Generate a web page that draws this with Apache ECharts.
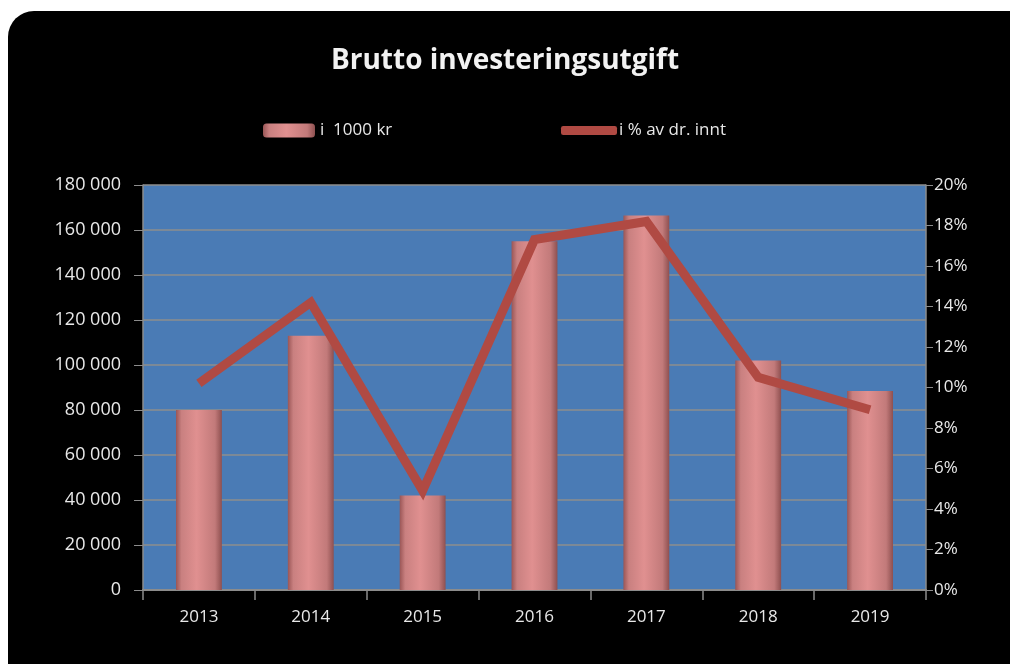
<!DOCTYPE html>
<html>
<head>
<meta charset="utf-8">
<script src="https://cdn.jsdelivr.net/npm/echarts@6/dist/echarts.min.js"></script>
<style>
  html, body { margin: 0; padding: 0; background: #fff; }
  #chart { width: 1010px; height: 664px; }
</style>
</head>
<body>
<div id="chart"></div>
<script>
// data
var years = ['2013', '2014', '2015', '2016', '2017', '2018', '2019'];
var amount = [80000, 113000, 42000, 155000, 166500, 102000, 88500]; // i 1000 kr
var share = [10.2, 14.2, 4.9, 17.3, 18.2, 10.5, 8.9]; // i % av dr. innt

var chart = echarts.init(document.getElementById('chart'));
var font = '"Open Sans", Lato, sans-serif';

var barColor = new echarts.graphic.LinearGradient(0, 0, 1, 0, [
  { offset: 0, color: '#9a5656' },
  { offset: 0.12, color: '#c98080' },
  { offset: 0.45, color: '#e09090' },
  { offset: 0.85, color: '#c27a7a' },
  { offset: 1, color: '#8e5050' }
]);

var option = {
  backgroundColor: 'transparent',
  textStyle: { fontFamily: font },
  graphic: [{
    type: 'rect',
    z: -10,
    shape: { x: 8, y: 11, width: 1030, height: 680, r: 26 },
    style: { fill: '#000' }
  }],
  title: {
    text: 'Brutto investeringsutgift',
    left: 'center',
    top: 42,
    textStyle: { color: '#f2f2f2', fontSize: 28, fontWeight: 'bold', fontFamily: font }
  },
  legend: [{
    data: ['i  1000 kr'],
    left: 258,
    top: 117,
    itemWidth: 52,
    itemHeight: 14,
    itemGap: 8,
    textStyle: { color: '#e8e8e8', fontSize: 17 }
  }, {
    data: [{ name: 'i % av dr. innt', icon: 'roundRect' }],
    left: 556,
    top: 117,
    itemWidth: 56,
    itemHeight: 9,
    textStyle: { color: '#e8e8e8', fontSize: 17, padding: [0, 0, 0, -3] }
  }],
  grid: {
    left: 143,
    right: 84,
    top: 185,
    bottom: 74,
    show: true,
    backgroundColor: '#4a7bb5',
    borderWidth: 0
  },
  xAxis: {
    type: 'category',
    data: years,
    axisLine: { lineStyle: { color: '#8c8c8c', width: 2 } },
    axisTick: { show: true, length: 10, lineStyle: { color: '#8c8c8c', width: 1.5 } },
    axisLabel: { color: '#e8e8e8', fontSize: 17, margin: 19 }
  },
  yAxis: [{
    type: 'value',
    min: 0,
    max: 180000,
    interval: 20000,
    axisLine: { show: true, lineStyle: { color: '#8c8c8c', width: 1.5 } },
    axisTick: { show: true, length: 9, lineStyle: { color: '#8c8c8c' } },
    splitLine: { lineStyle: { color: '#8e8e8e', width: 1.5 } },
    axisLabel: {
      color: '#e8e8e8',
      fontSize: 18,
      margin: 22,
      formatter: function (v) {
        return String(v).replace(/\B(?=(\d{3})+(?!\d))/g, ' ');
      }
    }
  }, {
    type: 'value',
    min: 0,
    max: 20,
    interval: 2,
    position: 'right',
    axisLine: { show: true, lineStyle: { color: '#8c8c8c', width: 1.5 } },
    axisTick: { show: true, length: 7, lineStyle: { color: '#8c8c8c' } },
    splitLine: { show: false },
    axisLabel: { color: '#e8e8e8', fontSize: 17, margin: 8, formatter: '{value}%' }
  }],
  series: [{
    name: 'i  1000 kr',
    type: 'bar',
    data: amount,
    barWidth: '41%',
    itemStyle: {
      color: barColor,
      shadowColor: 'rgba(0,0,0,0.35)',
      shadowBlur: 3,
      shadowOffsetX: 1
    }
  }, {
    name: 'i % av dr. innt',
    type: 'line',
    yAxisIndex: 1,
    data: share,
    symbol: 'none',
    lineStyle: { color: '#b04a43', width: 9, cap: 'butt', join: 'miter' },
    itemStyle: { color: '#b04a43' },
    z: 5
  }]
};

chart.setOption(option);
</script>
</body>
</html>
